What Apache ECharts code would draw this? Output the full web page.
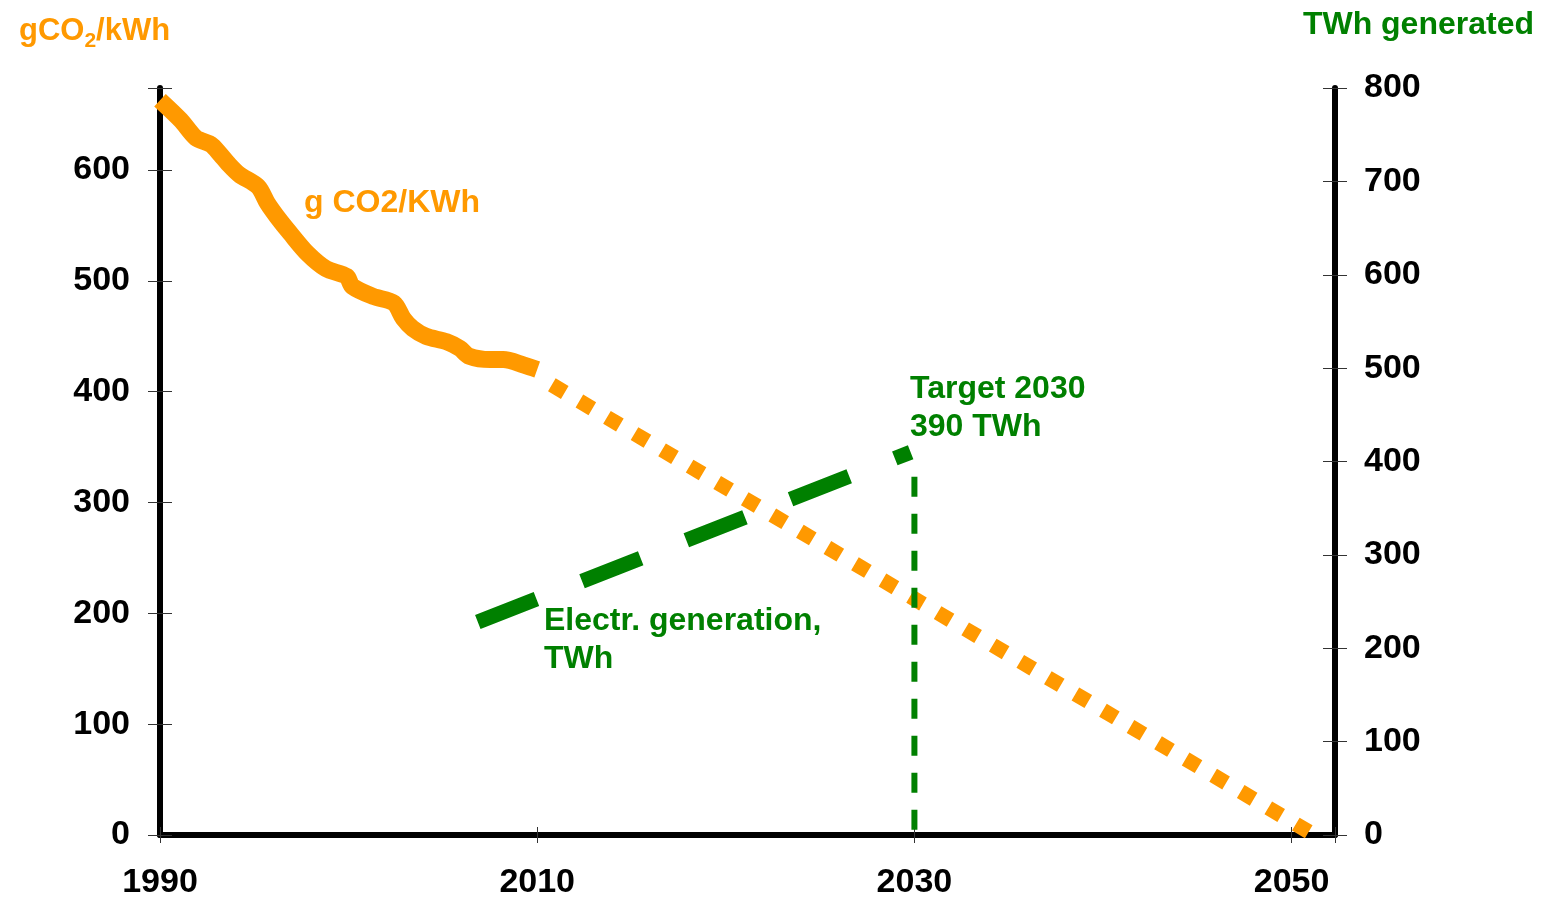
<!DOCTYPE html>
<html>
<head>
<meta charset="utf-8">
<script src="https://cdn.jsdelivr.net/npm/echarts@6/dist/echarts.min.js"></script>
<style>
  html, body { margin: 0; padding: 0; background: #fff; }
  #co2Chart { width: 1546px; height: 900px; }
</style>
</head>
<body>
<div id="co2Chart"></div>
<script>
// historic carbon intensity, g CO2 per kWh
const co2Years = [1990, 1991.1, 1991.9, 1992.7, 1993.2, 1993.6, 1994.2, 1995.2, 1995.7, 1996.2, 1996.9,
  1997.8, 1998.8, 1999.9, 2000.2, 2001.3, 2002.4, 2002.9, 2003.4, 2004.1, 2005.2, 2005.9, 2006.4,
  2007.5, 2008.2, 2009.3, 2010]
const co2Values = [663, 645, 629, 623, 614, 606, 596, 585, 570, 558, 543,
  525, 511, 504, 495, 486, 480, 466, 457, 450, 445, 439, 432,
  429, 429, 424, 420]
// projected path to zero
const projYears = [2010, 2051.2]
const projValues = [414, 0]
// electricity generation, TWh
const genYears = [2006.85, 2029.8]
const genValues = [228, 410]
// 2030 target marker
const targetYears = [2030, 2030]
const targetValues = [402, 0]

const xTicks = [1990, 2010, 2030, 2050]
const leftTicks = [0, 100, 200, 300, 400, 500, 600]
const rightTicks = [0, 100, 200, 300, 400, 500, 600, 700, 800]

const ORANGE = '#FF9900'
const GREEN = '#008000'
const FONT = '"Liberation Sans", Arial, sans-serif'

const pairs = (xs, ys) => xs.map((x, i) => [x, ys[i]])

const gridBox = { left: 160, right: 211, top: 88, bottom: 65 }

const tickLabel = (list) => (v) => (list.indexOf(v) >= 0 ? String(v) : '')
const labelStyle = { color: '#000', fontSize: 34, fontWeight: 'bold', fontFamily: FONT }
const tickStyle = { color: '#333', width: 1 }
const lineStyle = { color: '#000', width: 6 }

let co2Chart = echarts.init(document.getElementById('co2Chart'))

let option = {
  animation: false,
  title: [
    {
      left: 14,
      top: 6,
      text: '{a|gCO}{b|2}{a|/kWh}',
      textStyle: {
        rich: {
          a: { color: ORANGE, fontSize: 31, fontWeight: 'bold', fontFamily: FONT },
          b: { color: ORANGE, fontSize: 21, fontWeight: 'bold', fontFamily: FONT, padding: [20, 0, 0, 0] }
        }
      }
    },
    {
      right: 7,
      top: 4,
      text: 'TWh generated',
      textStyle: { color: GREEN, fontSize: 32, fontWeight: 'bold', fontFamily: FONT }
    }
  ],
  grid: [
    Object.assign({}, gridBox),
    Object.assign({}, gridBox)
  ],
  xAxis: [
    {
      type: 'value',
      gridIndex: 0,
      min: 1990,
      max: 2052.3,
      interval: 20,
      axisLine: { lineStyle: lineStyle },
      axisTick: { length: 8, lineStyle: tickStyle },
      axisLabel: Object.assign({ margin: 31, formatter: tickLabel(xTicks) }, labelStyle),
      splitLine: { show: false }
    },
    {
      // inner half of the crossing ticks
      type: 'value',
      gridIndex: 1,
      min: 1990,
      max: 2052.3,
      interval: 20,
      axisLine: { show: false },
      axisTick: { inside: true, length: 8, lineStyle: tickStyle },
      axisLabel: { show: false },
      splitLine: { show: false }
    }
  ],
  yAxis: [
    {
      type: 'value',
      gridIndex: 0,
      position: 'left',
      min: 0,
      max: 674,
      interval: 100,
      axisLine: { show: true, lineStyle: lineStyle },
      axisTick: { show: true, length: 12, lineStyle: tickStyle },
      axisLabel: Object.assign({ margin: 30, formatter: tickLabel(leftTicks) }, labelStyle),
      splitLine: { show: false }
    },
    {
      type: 'value',
      gridIndex: 0,
      position: 'right',
      min: 0,
      max: 800,
      interval: 100,
      axisLine: { show: true, lineStyle: lineStyle },
      axisTick: { show: true, length: 12, lineStyle: tickStyle },
      axisLabel: Object.assign({ margin: 29, formatter: tickLabel(rightTicks) }, labelStyle),
      splitLine: { show: false }
    },
    {
      type: 'value',
      gridIndex: 1,
      position: 'left',
      min: 0,
      max: 674,
      interval: 100,
      axisLine: { show: false },
      axisTick: { show: true, inside: true, length: 12, lineStyle: tickStyle },
      axisLabel: { show: false },
      splitLine: { show: false }
    },
    {
      type: 'value',
      gridIndex: 1,
      position: 'right',
      min: 0,
      max: 800,
      interval: 100,
      axisLine: { show: false },
      axisTick: { show: true, inside: true, length: 12, lineStyle: tickStyle },
      axisLabel: { show: false },
      splitLine: { show: false }
    }
  ],
  series: [
    {
      name: 'g CO2/KWh',
      type: 'line',
      xAxisIndex: 0,
      yAxisIndex: 0,
      data: pairs(co2Years, co2Values),
      showSymbol: false,
      smooth: 0.3,
      lineStyle: { color: ORANGE, width: 17, join: 'round' },
      z: 3
    },
    {
      name: 'projection',
      type: 'line',
      xAxisIndex: 0,
      yAxisIndex: 0,
      data: pairs(projYears, projValues),
      showSymbol: false,
      lineStyle: { color: ORANGE, width: 15, type: [15, 17], dashOffset: 15, cap: 'butt' },
      z: 2
    },
    {
      name: 'Electr. generation, TWh',
      type: 'line',
      xAxisIndex: 0,
      yAxisIndex: 1,
      data: pairs(genYears, genValues),
      showSymbol: false,
      lineStyle: { color: GREEN, width: 15, type: [63, 49], cap: 'butt' },
      z: 4
    },
    {
      name: 'Target 2030',
      type: 'line',
      xAxisIndex: 0,
      yAxisIndex: 1,
      data: pairs(targetYears, targetValues),
      showSymbol: false,
      lineStyle: { color: GREEN, width: 6, type: [20, 17], dashOffset: 20, cap: 'butt' },
      z: 5
    }
  ],
  graphic: [
    {
      type: 'text',
      left: 304,
      top: 187,
      style: { text: 'g CO2/KWh', fill: ORANGE, fontSize: 32, fontWeight: 'bold', fontFamily: FONT }
    },
    {
      type: 'text',
      left: 544,
      top: 602,
      style: { text: 'Electr. generation,\nTWh', fill: GREEN, fontSize: 32, fontWeight: 'bold', fontFamily: FONT, lineHeight: 38 }
    },
    {
      type: 'text',
      left: 910,
      top: 370,
      style: { text: 'Target 2030\n390 TWh', fill: GREEN, fontSize: 32, fontWeight: 'bold', fontFamily: FONT, lineHeight: 38 }
    }
  ]
}

co2Chart.setOption(option)
</script>
</body>
</html>
